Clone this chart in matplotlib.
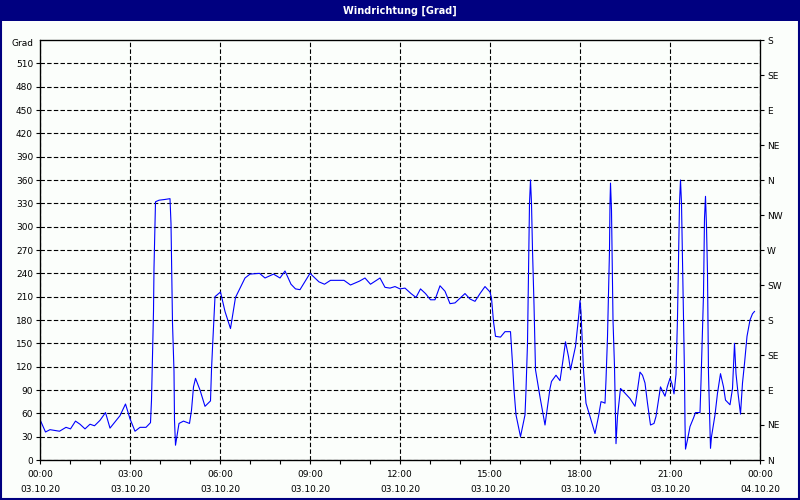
import matplotlib.pyplot as plt
from matplotlib.patches import Rectangle

# minutes since 03.10.20 00:00 and wind direction in degrees
minutes = [0, 11, 20, 39, 52, 61, 71, 80, 90, 100, 109, 120, 131, 140, 160, 171, 180, 190,
           200, 212, 221, 223, 225, 227, 228, 230, 231, 238, 250, 260, 262, 265, 268, 269,
           271, 278, 287, 299, 303, 307, 311, 320, 330, 341, 343, 345, 348, 350, 361, 370,
           381, 391, 410, 420, 439, 450, 467, 480, 490, 502, 511, 520, 540, 558, 569, 581,
           597, 608, 621, 639, 650, 661, 680, 690, 700, 710, 720, 730, 742, 752, 761, 771,
           781, 790, 800, 810, 820, 830, 850, 860, 870, 880, 890, 900, 903, 907, 911, 921,
           930, 941, 945, 948, 952, 961, 970, 972, 975, 977, 979, 981, 983, 985, 988, 991,
           1000, 1010, 1020, 1023, 1032, 1040, 1045, 1051, 1057, 1061, 1071, 1078, 1080,
           1082, 1087, 1092, 1100, 1110, 1117, 1122, 1127, 1130, 1132, 1135, 1139, 1140,
           1141, 1143, 1146, 1149, 1151, 1152, 1155, 1161, 1167, 1180, 1190, 1193, 1200,
           1205, 1210, 1215, 1221, 1228, 1232, 1237, 1241, 1250, 1255, 1260, 1264, 1268,
           1272, 1275, 1279, 1281, 1283, 1287, 1289, 1290, 1291, 1295, 1300, 1307, 1311,
           1320, 1322, 1325, 1327, 1329, 1331, 1333, 1335, 1337, 1341, 1343, 1350, 1355,
           1361, 1367, 1371, 1380, 1385, 1389, 1392, 1396, 1401, 1405, 1409, 1414, 1420,
           1425, 1429]
direction = [52, 36, 39, 37, 42, 40, 50, 46, 40, 46, 44, 51, 61, 41, 57, 72, 53, 37,
             42, 42, 48, 77, 133, 191, 247, 305, 332, 334, 335, 336, 304, 176, 114, 51,
             19, 47, 50, 47, 64, 94, 105, 90, 69, 76, 116, 144, 182, 210, 216, 191,
             169, 209, 234, 239, 240, 234, 239, 234, 243, 226, 220, 219, 240, 229, 226, 231,
             231, 231, 225, 230, 234, 226, 234, 222, 221, 223, 220, 221, 214, 209, 220, 214,
             206, 206, 224, 217, 201, 202, 214, 207, 204, 214, 223, 216, 208, 178, 159, 158,
             165, 165, 124, 90, 58, 30, 58, 90, 150, 240, 330, 360, 330, 270, 200, 116,
             81, 45, 92, 101, 109, 102, 124, 152, 133, 116, 146, 189, 205,
             190, 116, 73, 56, 34, 56, 75, 74, 73, 103, 158, 270, 330,
             356, 321, 180, 120, 54, 21, 56, 92, 88, 79, 69, 81, 113,
             109, 99, 73, 45, 47, 56, 77, 94, 82, 95, 105, 98, 85,
             110, 183, 330, 360, 330, 184, 110, 47, 14, 26, 43, 54, 61,
             61, 100, 170, 213, 311, 339, 300, 240, 111, 15, 30, 58, 86,
             111, 94, 77, 71, 92, 150, 111, 86, 59, 99, 124, 159, 180,
             188, 191]

time_labels = ['00:00', '03:00', '06:00', '09:00', '12:00', '15:00', '18:00', '21:00', '00:00']
date_labels = ['03.10.20'] * 8 + ['04.10.20']
compass_labels = ['N', 'NE', 'E', 'SE', 'S', 'SW', 'W', 'NW', 'N', 'NE', 'E', 'SE', 'S']

bg = '#fbfefb'
navy = '#000080'

fig = plt.figure(figsize=(8, 5), dpi=100, facecolor=bg)
ax = fig.add_axes([0.05, 0.08, 0.90, 0.84], facecolor=bg)

ax.plot(minutes, direction, color='#0000ff', linewidth=0.8)

ax.set_xlim(0, 1440)
ax.set_ylim(0, 540)
ax.set_xticks(range(0, 1441, 180))
ax.set_xticks(range(0, 1441, 60), minor=True)
ax.set_xticklabels([t + '\n' + d for t, d in zip(time_labels, date_labels)],
                   fontsize=6.5, linespacing=1.9)
ax.set_yticks(range(0, 540, 30))
ax.set_yticklabels([str(v) for v in range(0, 540, 30)], fontsize=6.5)
ax.tick_params(axis='both', which='both', direction='out', length=3, width=0.8, pad=2)
ax.tick_params(axis='x', pad=4)
ax.grid(True, which='major', color='black', linestyle=(0, (4, 2)), linewidth=0.8)
for s in ax.spines.values():
    s.set_linewidth(0.9)

ax2 = ax.twinx()
ax2.set_ylim(0, 540)
ax2.set_yticks(range(0, 541, 45))
ax2.set_yticklabels(compass_labels, fontsize=6.5)
ax2.tick_params(axis='y', direction='out', length=3, width=0.8, pad=2)

fig.text(0.014, 0.912, 'Grad', fontsize=6.5, ha='left', va='center')

# title bar and window border
fig.patches.append(Rectangle((0, 0.959), 1, 0.041, transform=fig.transFigure,
                             facecolor=navy, edgecolor='none', zorder=0))
fig.text(0.5, 0.979, 'Windrichtung [Grad]', color='white', fontsize=7, fontweight='bold',
         ha='center', va='center')
fig.patches.append(Rectangle((0.001, 0.002), 0.998, 0.996, transform=fig.transFigure,
                             facecolor='none', edgecolor=navy, linewidth=1.5))

fig.savefig('out.png', dpi=100, facecolor=bg)
